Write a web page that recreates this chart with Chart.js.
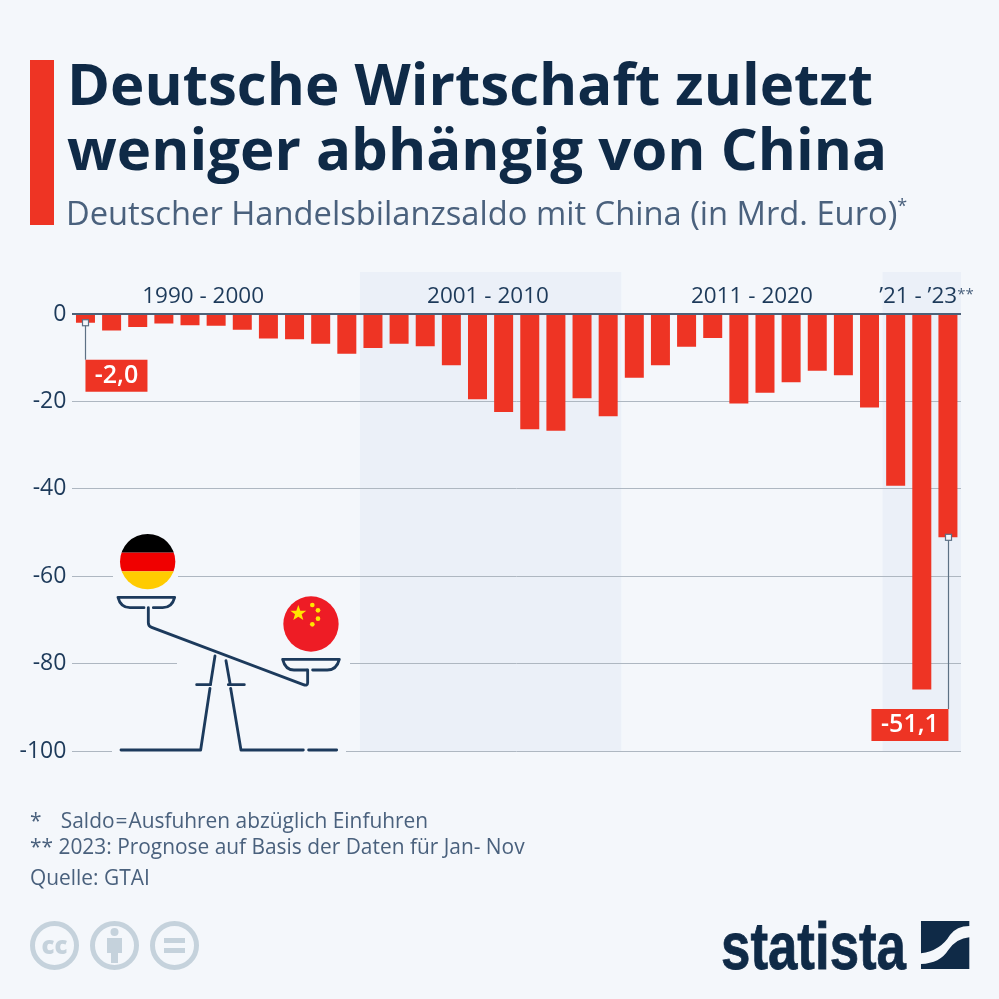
<!DOCTYPE html>
<html lang="de">
<head>
<meta charset="utf-8">
<title>Deutsche Wirtschaft zuletzt weniger abhängig von China</title>
<script src="https://cdn.jsdelivr.net/npm/chart.js@4"></script>
<style>
  html, body { margin: 0; padding: 0; background: #f4f7fb; overflow: hidden; }
  body { width: 999px; height: 999px; position: relative; font-family: "Open Sans", sans-serif; }
  canvas, svg { position: absolute; left: 0; top: 0; }
  .abs { position: absolute; white-space: nowrap; }
  #accent { left: 30px; top: 60px; width: 24px; height: 165px; background: #ee3424; }
  .headline { left: 67px; font-size: 58.2px; line-height: 65px; font-weight: 700; color: #0f2a47; }
  #subtitle { left: 66px; top: 191px; font-size: 32.7px; line-height: 44px; color: #4a617d; }
  #subtitle sup { font-size: 18px; line-height: 0; vertical-align: 13px; }
  .note { left: 30px; font-size: 20.9px; line-height: 26px; color: #4a617d; }
  .eq { margin: 0 1px; }
  .saldo { margin-left: 3px; }
</style>
</head>
<body>
<canvas id="chart" width="999" height="999"></canvas>

<svg width="999" height="999" viewBox="0 0 999 999">
  <!-- gaps in the gridlines around the scale icon -->
  <g fill="#f4f7fb">
    <rect x="113" y="573" width="65" height="6"/>
    <rect x="177" y="660" width="173" height="6"/>
    <rect x="112" y="748" width="234" height="6"/>
  </g>
  <g transform="translate(90 520) scale(0.3333)">
    <clipPath id="deClip"><circle cx="173" cy="125" r="83"/></clipPath>
    <g clip-path="url(#deClip)">
      <rect x="85" y="40" width="176" height="58" fill="#000"/>
      <rect x="85" y="98" width="176" height="56" fill="#f00000"/>
      <rect x="85" y="154" width="176" height="58" fill="#ffcb00"/>
    </g>
    <circle cx="663" cy="312" r="83" fill="#ee1c25"/>
    <g fill="#ffe600">
      <polygon points="625,255 631,272 649,272 635,283 640,300 625,290 610,300 615,283 601,272 619,272"/>
      <circle cx="667" cy="255" r="7"/>
      <circle cx="684" cy="271" r="7"/>
      <circle cx="684" cy="296" r="7"/>
      <circle cx="667" cy="313" r="7"/>
    </g>
    <g fill="none" stroke="#1c3a5c" stroke-width="8.5" stroke-linecap="round" stroke-linejoin="round">
      <path d="M84 232H254Q246 263 218 263H190M162 263H120Q92 263 84 232"/>
      <path d="M175 263V308Q175 318 185 322L640 494Q653 499 653 488V450"/>
      <path d="M578 418H748Q740 450 712 450H668M650 450H612Q586 450 578 418"/>
      <path d="M375 408L362 490M360 505L332 690H93"/>
      <path d="M408 422L420 490M422 505L453 690H640M656 690H740"/>
      <path d="M320 494H362M415 494H463"/>
    </g>
  </g>

  <!-- licence icons -->
  <g fill="none" stroke="#c5d2dc" stroke-width="5">
    <circle cx="54.5" cy="945.5" r="22"/>
    <circle cx="114.5" cy="945.5" r="22"/>
    <circle cx="174.5" cy="945.5" r="22"/>
  </g>
  <text x="54.5" y="954" text-anchor="middle" font-family="Open Sans" font-weight="800" font-size="24" fill="#c5d2dc">cc</text>
  <g fill="#c5d2dc">
    <circle cx="114.5" cy="932" r="4"/>
    <path d="M107 938H122V953H118V963H111V953H107Z"/>
    <rect x="164" y="938" width="21" height="5"/>
    <rect x="164" y="948" width="21" height="5"/>
  </g>

  <!-- statista logo -->
  <text x="721" y="969" font-family="Liberation Sans" font-weight="700" font-size="66" textLength="185" lengthAdjust="spacingAndGlyphs" fill="#0f2a47" stroke="#0f2a47" stroke-width="0.8">statista</text>
  <g transform="translate(700 900) scale(0.3333)" fill="#0f2a47">
    <path d="M663 63H808V78Q770 78 750 105Q722 152 663 160Z"/>
    <path d="M808 112V207H663V192Q720 190 745 150Q770 115 808 112Z"/>
  </g>
</svg>

<div class="abs" id="accent"></div>
<div class="abs headline" style="top:50px">Deutsche Wirtschaft zuletzt</div>
<div class="abs headline" style="top:115px">weniger abhängig von China</div>
<div class="abs" id="subtitle">Deutscher Handelsbilanzsaldo mit China (in Mrd. Euro)<sup>*</sup></div>
<div class="abs note" style="top:807px">*&nbsp;&nbsp;&nbsp;<span class="saldo">Saldo</span><span class="eq">=</span>Ausfuhren abzüglich Einfuhren</div>
<div class="abs note" style="top:833px">** 2023: Prognose auf Basis der Daten für Jan- Nov</div>
<div class="abs note" style="top:864px">Quelle: GTAI</div>

<script>
const years = ['1990', '1991', '1992', '1993', '1994', '1995', '1996', '1997', '1998', '1999', '2000',
  '2001', '2002', '2003', '2004', '2005', '2006', '2007', '2008', '2009', '2010',
  '2011', '2012', '2013', '2014', '2015', '2016', '2017', '2018', '2019', '2020',
  '2021', '2022', '2023'];
const balance = [-2.0, -3.8, -3.0, -2.2, -2.6, -2.7, -3.6, -5.6, -5.8, -6.8, -9.1,
  -7.8, -6.8, -7.4, -11.7, -19.5, -22.4, -26.4, -26.7, -19.3, -23.4,
  -14.6, -11.7, -7.5, -5.5, -20.5, -18.0, -15.6, -13.0, -14.0, -21.4,
  -39.3, -85.9, -51.1];
const periodLabels = ['1990 - 2000', '2001 - 2010', '2011 - 2020', '’21 - ’23'];
const periodCentres = [4.5, 15.4, 25.5, 31.86];
const shadedFrom = ['2001', '2021'];
const shadedTo = ['2010', '2023'];
const calloutYears = ['1990', '2023'];

const RED = '#ee3424';
const NAVY = '#1d3a5a';

// shaded decades behind the grid
const bandsPlugin = {
  id: 'bands',
  beforeDraw(chart) {
    const { ctx, scales: { x }, chartArea } = chart;
    const step = x.getPixelForValue(1) - x.getPixelForValue(0);
    ctx.save();
    ctx.fillStyle = '#ebf0f8';
    shadedFrom.forEach((from, i) => {
      const left = x.getPixelForValue(years.indexOf(from)) - step / 2;
      const right = x.getPixelForValue(years.indexOf(shadedTo[i])) + step / 2;
      ctx.fillRect(left, 272, right - left, chartArea.bottom - 272);
    });
    ctx.restore();
  }
};

// period captions above the zero line
const periodsPlugin = {
  id: 'periods',
  afterDraw(chart) {
    const { ctx, scales: { x } } = chart;
    ctx.save();
    ctx.fillStyle = NAVY;
    ctx.font = '22.5px "Open Sans"';
    ctx.textAlign = 'center';
    ctx.textBaseline = 'alphabetic';
    periodLabels.forEach((label, i) => {
      const cx = x.getPixelForValue(periodCentres[i]);
      ctx.fillText(label, cx, 303);
      if (i === 3) {
        const w = ctx.measureText(label).width;
        ctx.font = '15px "Open Sans"';
        ctx.fillStyle = '#4a617d';
        ctx.textAlign = 'left';
        ctx.fillText('**', cx + w / 2, 299);
      }
    });
    ctx.restore();
  }
};

// value boxes with their leader lines
const calloutPlugin = {
  id: 'callouts',
  afterDatasetsDraw(chart) {
    const { ctx, scales: { x, y } } = chart;
    ctx.save();
    calloutYears.forEach((year, i) => {
      const idx = years.indexOf(year);
      const px = x.getPixelForValue(idx);
      const py = y.getPixelForValue(balance[idx]);
      const boxTop = i === 0 ? py + 37 : 709;
      const boxLeft = i === 0 ? px : px - 76.5;
      const boxW = i === 0 ? 62 : 77;
      ctx.strokeStyle = '#5d7185';
      ctx.lineWidth = 1.2;
      ctx.beginPath();
      ctx.moveTo(Math.round(px) + 0.5, py);
      ctx.lineTo(Math.round(px) + 0.5, boxTop);
      ctx.stroke();
      ctx.fillStyle = '#f4f7fb';
      ctx.fillRect(Math.round(px) - 2.5, py - 3, 6, 6);
      ctx.strokeRect(Math.round(px) - 2.5, py - 3, 6, 6);
      ctx.fillStyle = RED;
      ctx.fillRect(boxLeft, boxTop, boxW, 32);
      ctx.fillStyle = '#fff';
      ctx.font = '600 25px "Open Sans"';
      ctx.textAlign = 'center';
      ctx.textBaseline = 'middle';
      ctx.fillText(balance[idx].toFixed(1).replace('.', ','), boxLeft + boxW / 2, boxTop + 16);
    });
    ctx.restore();
  }
};

new Chart(document.getElementById('chart'), {
  type: 'bar',
  data: {
    labels: years,
    datasets: [{
      data: balance,
      backgroundColor: RED,
      borderWidth: 0,
      barPercentage: 0.727,
      categoryPercentage: 1
    }]
  },
  options: {
    responsive: false,
    animation: false,
    devicePixelRatio: 1,
    layout: { padding: { left: 0, right: 38, top: 314, bottom: 248 } },
    plugins: { legend: { display: false }, tooltip: { enabled: false }, title: { display: false } },
    scales: {
      x: { display: false },
      y: {
        min: -100,
        max: 0,
        afterFit: scale => { scale.width = 72.4; },
        border: { display: false },
        grid: {
          tickLength: 0,
          color: ctx => (ctx.tick.value === 0 ? '#4d6178' : '#aeb7c1'),
          lineWidth: ctx => (ctx.tick.value === 0 ? 2 : 1)
        },
        ticks: {
          stepSize: 20,
          padding: 6,
          color: NAVY,
          font: { family: '"Open Sans"', size: 23 },
          callback: value => String(value)
        }
      }
    }
  },
  plugins: [bandsPlugin, periodsPlugin, calloutPlugin]
});
</script>
</body>
</html>
